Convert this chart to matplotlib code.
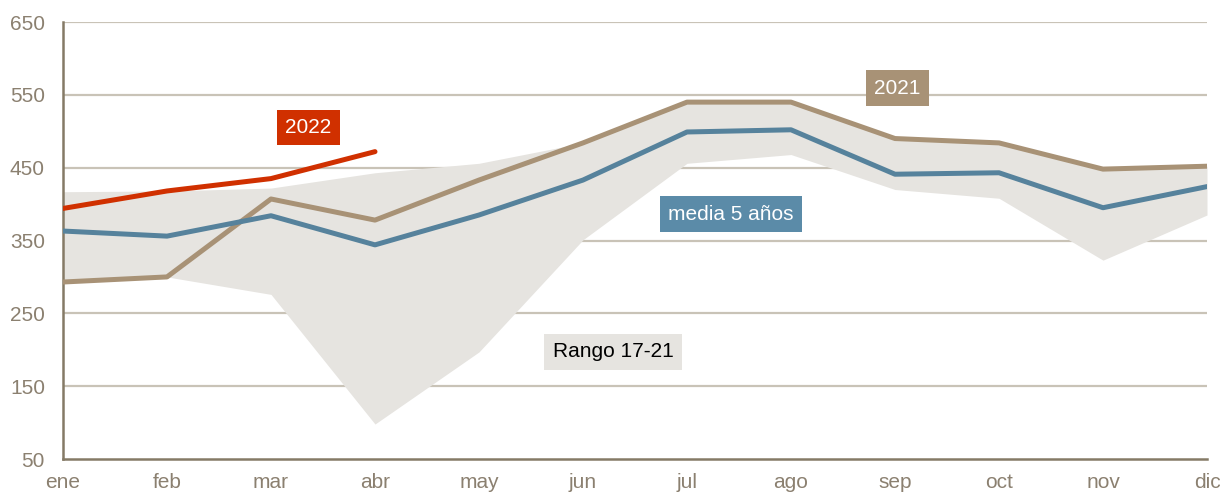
import matplotlib
matplotlib.use("Agg")
import matplotlib.pyplot as plt

months = ["ene", "feb", "mar", "abr", "may", "jun", "jul", "ago", "sep", "oct", "nov", "dic"]
range_low = [293, 300, 276, 98, 197, 351, 456, 468, 420, 408, 323, 385]
range_high = [417, 418, 422, 443, 456, 484, 540, 540, 490, 484, 448, 452]
media_5 = [363, 356, 384, 344, 385, 433, 499, 502, 441, 443, 395, 424]
y2021 = [293, 300, 407, 378, 433, 484, 540, 540, 490, 484, 448, 452]
y2022 = [394, 418, 435, 472]
yticks = [50, 150, 250, 350, 450, 550, 650]

plt.rcParams['font.family'] = ['Liberation Sans', 'DejaVu Sans']

fig = plt.figure(figsize=(12.2, 4.94), dpi=100)
ax = fig.add_axes([63/1220, 1 - 459/494, (1207-63)/1220, (459-22)/494])

x = list(range(len(months)))
ax.fill_between(x, range_low, range_high, color="#E6E4E0", lw=0, zorder=1)
for t in yticks[1:]:
    ax.axhline(t, color="#C9C3B7", lw=1.6, zorder=0.5)
ax.plot(x, y2021, color="#A89276", lw=3.6, zorder=3, solid_capstyle="round")
ax.plot(x, media_5, color="#56829C", lw=3.6, zorder=4, solid_capstyle="round")
ax.plot(x[:len(y2022)], y2022, color="#D03000", lw=3.6, zorder=5, solid_capstyle="round")

ax.set_xlim(0, 11)
ax.set_ylim(50, 650)
ax.set_yticks(yticks)
ax.set_xticks(x)
ax.set_xticklabels(months)
for s in ["top", "right"]:
    ax.spines[s].set_visible(False)
for s in ["left", "bottom"]:
    ax.spines[s].set_color("#857A66")
    ax.spines[s].set_linewidth(1.8)
ax.tick_params(axis="both", length=0, labelsize=15, colors="#8B8070")
ax.tick_params(axis="y", pad=13)
ax.tick_params(axis="x", pad=10)

def tag(xv, yv, text, fc, tc):
    ax.text(xv, yv, text, ha="center", va="center", fontsize=15, color=tc, zorder=6,
            bbox=dict(boxstyle="square,pad=0.4", fc=fc, ec="none"))

tag(2.36, 505, "2022", "#D03000", "white")
tag(8.02, 559, "2021", "#A89276", "white")
tag(6.42, 386, "media 5 años", "#5B8BA8", "white")
tag(5.29, 197, "Rango 17-21", "#E6E4E0", "black")

fig.savefig("out.png", dpi=100)
